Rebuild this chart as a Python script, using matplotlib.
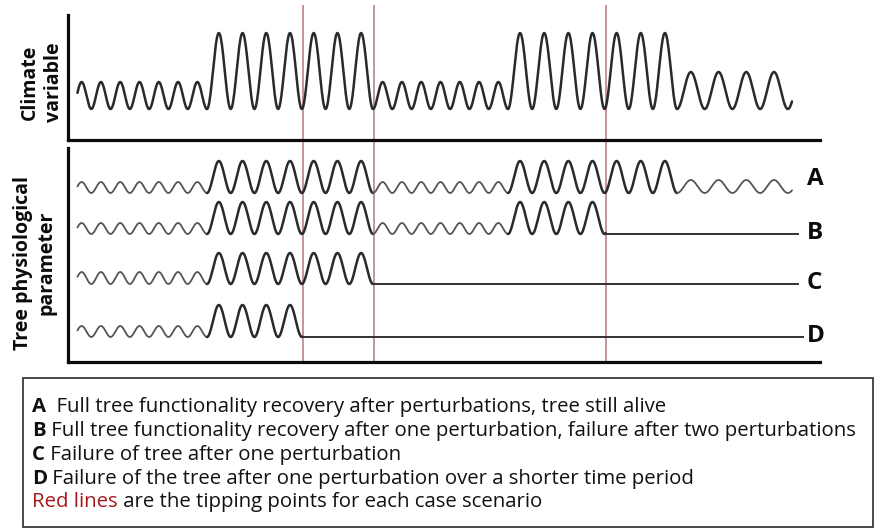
"""Schematic: climate perturbations vs tree physiological response, with tipping points."""
import numpy as np
import matplotlib
matplotlib.use("Agg")
import matplotlib.pyplot as plt
from matplotlib.patches import Rectangle

W, H = 874, 529
FONT = "Open Sans"

# climate regimes: edges on the time axis, cycles per regime, wave heights
EDGES = [72, 207, 373, 508, 677, 792]
CYCLES = [7, 7, 7, 7, 4.15]
T_START = 77
CLIMATE_BASE = 31
CLIMATE_AMP = [27, 76, 27, 76, 37]

# tipping points (red lines)
TIPPING = [303, 374, 606]

# tree response scenarios
ROWS = ["A", "B", "C", "D"]
ROW_BASE = [169, 128, 78, 25]
ROW_AMP = [[11, 32, 11, 32, 13],
           [11, 32, 11, 32, 0],
           [12, 31, 0, 0, 0],
           [11, 32, 0, 0, 0]]
ROW_FAIL = [None, 606, 373, 303]
ROW_FLAT_END = [None, 798, 798, 803]

NOTES = [("A", "  Full tree functionality recovery after perturbations, tree still alive"),
         ("B", " Full tree functionality recovery after one perturbation, failure after two perturbations"),
         ("C", " Failure of tree after one perturbation"),
         ("D", " Failure of the tree after one perturbation over a shorter time period")]
NOTE_Y = [407, 431, 455, 479, 502]

INK, WAVE, LIGHT, RED = "#0b0b0b", "#2a2a2a", "#555555", "#b87878"


def wave(ax, amps, base, stop=None):
    for i, a in enumerate(amps):
        if a == 0:
            continue
        x0, x1 = EDGES[i], EDGES[i + 1]
        x = np.linspace(x0, x1, 300)
        y = base + a * (1 - np.cos(2 * np.pi * CYCLES[i] * (x - x0) / (x1 - x0))) / 2
        keep = x >= T_START
        if stop is not None:
            keep &= x <= stop
        small = a < 20
        ax.plot(x[keep], y[keep], color=LIGHT if small else WAVE,
                lw=1.3 if small else 1.8, solid_capstyle="round", zorder=3)


fig = plt.figure(figsize=(W / 100, H / 100), dpi=100)
fig.patch.set_facecolor("white")

# red tipping lines span both panels
ax_red = fig.add_axes([68 / W, 1 - 362 / H, 752 / W, 357 / H])
ax_red.set_xlim(68, 820)
ax_red.set_ylim(0, 1)
ax_red.axis("off")
for x in TIPPING:
    ax_red.axvline(x, color=RED, lw=1.1)

ax_top = fig.add_axes([68 / W, 1 - 140 / H, 752 / W, 125 / H])
ax_bot = fig.add_axes([68 / W, 1 - 362 / H, 752 / W, 214 / H])
ax_top.set_ylim(0, 125)
ax_bot.set_ylim(0, 214)
for ax in (ax_top, ax_bot):
    ax.set_xlim(68, 820)
    ax.patch.set_alpha(0)
    ax.set_xticks([])
    ax.set_yticks([])
    for s in ("top", "right"):
        ax.spines[s].set_visible(False)
    for s in ("left", "bottom"):
        ax.spines[s].set_color(INK)
        ax.spines[s].set_linewidth(2.3)

wave(ax_top, CLIMATE_AMP, CLIMATE_BASE)

for name, base, amps, fail, end in zip(ROWS, ROW_BASE, ROW_AMP, ROW_FAIL, ROW_FLAT_END):
    wave(ax_bot, amps, base, stop=fail)
    if fail is not None:
        ax_bot.plot([fail, end], [base, base], color="#333333", lw=1.4, zorder=3)
    ax_bot.text(807, base + (14 if name == "A" else 1), name, family=FONT,
                fontweight="bold", fontsize=17.5, va="center", ha="left",
                color=INK, clip_on=False)

# full-figure overlay in pixel coordinates for labels and the caption box
ax_note = fig.add_axes([0, 0, 1, 1])
ax_note.set_xlim(0, W)
ax_note.set_ylim(H, 0)
ax_note.axis("off")

ax_note.text(42, 82, "Climate\nvariable", rotation=90, ha="center", va="center",
             family=FONT, fontweight="bold", fontsize=14, color=INK,
             linespacing=1.25)
ax_note.text(35, 263, "Tree physiological\nparameter", rotation=90, ha="center",
             va="center", family=FONT, fontweight="bold", fontsize=14,
             color=INK, linespacing=1.25)

ax_note.add_patch(Rectangle((23, 378), 850, 149, fill=False, ec="#3a3a3a", lw=1.3))
FS = 14.7
for (letter, rest), y in zip(NOTES, NOTE_Y):
    t = ax_note.text(32, y, letter, family=FONT, fontweight="bold", fontsize=FS,
                     va="center", ha="left", color="#111111")
    ax_note.annotate(rest, xy=(1, 0), xycoords=t, va="bottom", ha="left",
                     family=FONT, fontsize=FS, color="#111111")
t = ax_note.text(32, NOTE_Y[4], "Red lines", family=FONT, fontsize=FS,
                 va="center", ha="left", color="#a3191c")
ax_note.annotate(" are the tipping points for each case scenario", xy=(1, 0),
                 xycoords=t, va="bottom", ha="left", family=FONT, fontsize=FS,
                 color="#111111")

fig.savefig("out.png", dpi=100, facecolor="white")
